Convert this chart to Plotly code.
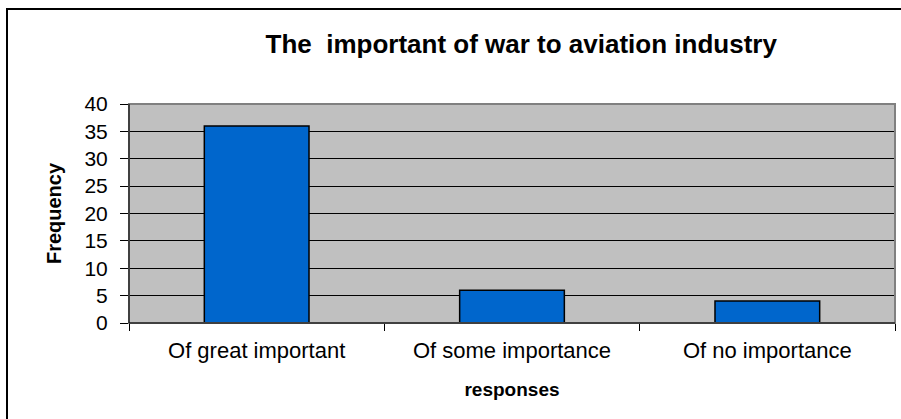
import plotly.graph_objects as go

# Survey responses and their counts
categories = ["Of great important", "Of some importance", "Of no importance"]
frequency = [36, 6, 4]
y_ticks = [0, 5, 10, 15, 20, 25, 30, 35, 40]

FONT = "Liberation Sans, Arial, sans-serif"

fig = go.Figure(
    go.Bar(
        x=categories,
        y=frequency,
        marker=dict(color="#0066CC", line=dict(color="#000000", width=1.5)),
    )
)

fig.update_layout(
    width=901,
    height=419,
    margin=dict(l=129, r=6, t=104, b=96),
    paper_bgcolor="#FFFFFF",
    plot_bgcolor="#C0C0C0",
    bargap=0.59,
    showlegend=False,
    font=dict(family=FONT, color="#000000"),
    title=dict(
        text="<b>The  important of war to aviation industry</b>",
        font=dict(family=FONT, size=26, color="#000000"),
        x=0.512,
        xref="paper",
        xanchor="center",
        y=1 - 44 / 419,
        yanchor="middle",
    ),
)

fig.update_xaxes(
    showline=True,
    linecolor="#000000",
    linewidth=1,
    ticks="outside",
    tickson="boundaries",
    ticklen=7,
    tickcolor="#000000",
    tickfont=dict(size=22),
    ticklabelstandoff=8,
    showgrid=False,
    title=dict(text="<b>responses</b>", font=dict(size=19), standoff=20),
)

fig.update_yaxes(
    range=[0, 40],
    tickvals=y_ticks,
    showline=True,
    linecolor="#000000",
    linewidth=1,
    ticks="outside",
    ticklen=8,
    tickcolor="#000000",
    tickfont=dict(size=21),
    ticklabelstandoff=8,
    showgrid=True,
    gridcolor="#000000",
    gridwidth=1,
    zeroline=False,
    title=dict(text="<b>Frequency</b>", font=dict(size=20), standoff=17),
)

# Gray frame on the plot area's top and right edges
fig.add_shape(
    type="rect", xref="paper", yref="paper",
    x0=0, x1=1, y0=0, y1=1,
    line=dict(color="#808080", width=2), layer="above",
)
# Redraw the black axis lines over the frame
fig.add_shape(type="line", xref="paper", yref="paper", x0=0, x1=0, y0=0, y1=1,
              line=dict(color="#000000", width=1), layer="above")
fig.add_shape(type="line", xref="paper", yref="paper", x0=0, x1=1, y0=0, y1=0,
              line=dict(color="#000000", width=1), layer="above")

# Outer chart border
pw, ph = 901 - 129 - 6, 419 - 104 - 96
fig.add_shape(
    type="rect", xref="paper", yref="paper",
    x0=(7 - 129) / pw, x1=(920 - 129) / pw,
    y0=(323 - 440) / ph, y1=(323 - 9) / ph,
    line=dict(color="#000000", width=2), layer="below",
)

fig.write_html("out.html")
